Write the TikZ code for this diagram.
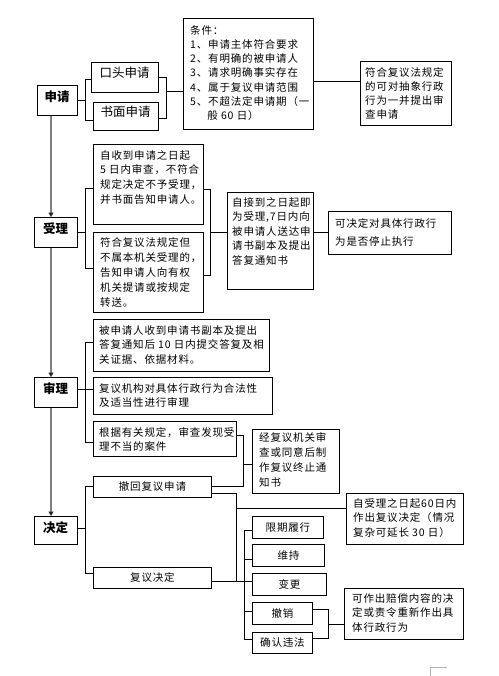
\documentclass[tikz,border=0pt]{standalone}
\usepackage{fontspec}
\setmainfont{Noto Sans CJK SC}
\newfontfamily\cjk{Noto Sans CJK SC}[LetterSpace=8]
\newfontfamily\cjkh{Noto Sans CJK SC}
\usetikzlibrary{arrows.meta}
\tikzset{
  bx/.style={draw=black, line width=0.9pt, rectangle, inner sep=0pt, anchor=north west,
             font=\cjk\fontsize{10.5}{13}\selectfont},
  hd/.style={font=\cjkh\bfseries\fontsize{12.5}{14}\selectfont, inner sep=0pt},
  big/.style={font=\cjkh\fontsize{12.5}{14}\selectfont, inner sep=0pt},
  txt/.style={font=\cjk\fontsize{10.5}{#1}\selectfont, align=left, inner sep=0pt, anchor=north west},
  ln/.style={draw=black, line width=0.9pt},
  mainln/.style={draw=gray, line width=1.6pt, -{Triangle[length=4.5pt,width=5pt,color=black!85]}},
}
\newcommand\mybox[6]{\node[bx, minimum width={(#4-#2)*1pt}, minimum height={(#5-#3)*1pt}] (#1) at (#2,#3) {#6};}
\begin{document}
\begin{tikzpicture}[x=1pt,y=-1pt]
\fill[white] (0,0) rectangle (498,676);
\useasboundingbox (0,0) rectangle (498,676);
% ---------- headers
\mybox{sq}{37}{85}{77}{115}{}
\node[hd] (sq-t) at (57,97) {申请};
\mybox{sl}{34}{217}{77}{247}{}
\node[hd] (sl-t) at (55.5,228.5) {受理};
\mybox{sh}{34}{377}{77}{407}{}
\node[hd] (sh-t) at (55.5,388.5) {审理};
\mybox{jd}{34}{516}{77}{544}{}
\node[hd] (jd-t) at (55.5,527.5) {决定};
\coordinate (gx) at (51,0);
\draw[mainln] (sq.south -| gx) -- (sl.north -| gx);
\draw[mainln] (sl.south -| gx) -- (sh.north -| gx);
\draw[mainln] (sh.south -| gx) -- (jd.north -| gx);
% ---------- stage 1
\mybox{kt}{91}{62}{158}{92}{}
\node[big] (kt-t) at (124.5,72.5) {口头申请};
\mybox{sm}{93}{102}{158}{130}{}
\node[big] (sm-t) at (125.5,112) {书面申请};
\mybox{tj}{183}{18}{313}{129}{}
\node[txt=14.3] (tj-t) at (190,25) {条件：\\1、申请主体符合要求\\2、有明确的被申请人\\3、请求明确事实存在\\4、属于复议申请范围\\5、不超法定申请期（一\\\phantom{5、}般 60 日）};
\mybox{cx}{360}{61}{451}{125}{}
\node[txt=14] (cx-t) at (365,67) {符合复议法规定\\的可对抽象行政\\行为一并提出审\\查申请};
\coordinate (a0) at (85,100);
\coordinate (a1) at (85,79);
\coordinate (a2) at (85,120);
\draw[ln] (a0 -| sq.east) -- (a0);
\draw[ln] (a1 -| kt.west) -- (a1) -- (a2) -- (a2 -| sm.west);
\coordinate (a3) at (166,77);
\coordinate (a4) at (166,118);
\draw[ln] (a3 -| kt.east) -- (a3) -- (a4) -- (a4 -| sm.east);
\coordinate (a5) at (166,91);
\draw[ln] (a5) -- (a5 -| tj.west);
\coordinate (a6) at (330,81);
\draw[ln] (a6 -| tj.east) -- (a6 -| cx.west);
% ---------- stage 2
\mybox{sa}{93}{144}{203}{224}{}
\node[txt=14.7] (sa-t) at (100,150) {自收到申请之日起\\5 日内审查，不符合\\规定决定不予受理，\\并书面告知申请人。};
\mybox{sb}{93}{232}{203}{312}{}
\node[txt=15] (sb-t) at (100,237) {符合复议法规定但\\不属本机关受理的，\\告知申请人向有权\\机关提请或按规定\\转送。};
\mybox{sc}{227}{192}{313}{289}{}
\node[txt=14.5] (sc-t) at (232,197) {自接到之日起即\\为受理,7日内向\\被申请人送达申\\请书副本及提出\\答复通知书};
\mybox{sd}{328}{211}{451}{254}{}
\node[txt=18] (sd-t) at (335,218) {可决定对具体行政行\\为是否停止执行};
\coordinate (b0) at (85,232);
\coordinate (b1) at (85,188);
\coordinate (b2) at (85,268);
\draw[ln] (b0 -| sl.east) -- (b0);
\draw[ln] (b1 -| sa.west) -- (b1) -- (b2) -- (b2 -| sb.west);
\coordinate (b3) at (210,189);
\coordinate (b4) at (210,275);
\draw[ln] (b3 -| sa.east) -- (b3) -- (b4) -- (b4 -| sb.east);
\coordinate (b5) at (210,232);
\draw[ln] (b5) -- (b5 -| sc.west);
\coordinate (b6) at (320,232);
\draw[ln] (b6 -| sc.east) -- (b6 -| sd.west);
% ---------- stage 3
\mybox{se}{93}{319}{269}{371}{}
\node[txt=14.5] (se-t) at (99,325) {被申请人收到申请书副本及提出\\答复通知后 10 日内提交答复及相\\关证据、依据材料。};
\mybox{sf}{93}{377}{272}{414}{}
\node[txt=14] (sf-t) at (99,383) {复议机构对具体行政行为合法性\\及适当性进行审理};
\mybox{sg}{93}{421}{236}{456}{}
\node[txt=14] (sg-t) at (99,427) {根据有关规定，审查发现受\\理不当的案件};
\mybox{shh}{252}{429}{339}{493}{}
\node[txt=15] (shh-t) at (259,432) {经复议机关审\\查或同意后制\\作复议终止通\\知书};
\coordinate (c0) at (85,389);
\coordinate (c1) at (85,342);
\coordinate (c2) at (85,442);
\draw[ln] (c0 -| sh.east) -- (c0 -| sf.west);
\draw[ln] (c1 -| se.west) -- (c1) -- (c2) -- (c2 -| sg.west);
% ---------- stage 4
\mybox{ch}{93}{476}{211}{497}{撤回复议申请}
\mybox{fj}{93}{567}{211}{588}{复议决定}
\mybox{i1}{252}{516}{323}{538}{限期履行}
\mybox{i2}{252}{544}{324}{566}{维持}
\mybox{i3}{252}{573}{326}{595}{变更}
\mybox{i4}{252}{602}{312}{624}{撤销}
\mybox{i5}{252}{632}{312}{653}{确认违法}
\mybox{si}{346}{493}{463}{544}{}
\node[txt=14.5] (si-t) at (353,498) {自受理之日起60日内\\作出复议决定（情况\\复杂可延长 30 日）};
\mybox{sj}{344}{588}{463}{639}{}
\node[txt=14.5] (sj-t) at (352,593) {可作出赔偿内容的决\\定或责令重新作出具\\体行政行为};
\coordinate (c3) at (243,435);
\coordinate (c4) at (243,486);
\draw[ln] (c3 -| sg.east) -- (c3) -- (c4) -- (c4 -| ch.east);
\coordinate (c5) at (243,464);
\draw[ln] (c5) -- (c5 -| shh.west);
\coordinate (d0) at (85,528);
\coordinate (d1) at (85,486);
\coordinate (d2) at (85,573);
\draw[ln] (d0 -| jd.east) -- (d0);
\draw[ln] (d1 -| ch.west) -- (d1) -- (d2) -- (d2 -| fj.west);
\coordinate (d3) at (236,493);
\coordinate (d4) at (236,581);
\coordinate (d5) at (236,508);
\draw[ln] (d3 -| ch.east) -- (d3) -- (d4);
\draw[ln] (d5) -- (d5 -| si.west);
\draw[ln] (d4 -| fj.east) -- (d4 -| i3.west);
\coordinate (e1) at (244,530);
\coordinate (e2) at (244,559);
\coordinate (e4) at (244,611);
\coordinate (e5) at (244,639);
\draw[ln] (e1 -| i1.west) -- (e1) -- (e5) -- (e5 -| i5.west);
\draw[ln] (e2) -- (e2 -| i2.west);
\draw[ln] (e4) -- (e4 -| i4.west);
\coordinate (f1) at (328,609);
\coordinate (f2) at (328,638);
\coordinate (f3) at (328,624);
\draw[ln] (f1 -| i4.east) -- (f1) -- (f2) -- (f2 -| i5.east);
\draw[ln] (f3) -- (f3 -| sj.west);
% ---------- page corner mark
\draw[gray!60, line width=0.8pt] (430,676) -- (430,667) -- (447,667);
\end{tikzpicture}
\end{document}
